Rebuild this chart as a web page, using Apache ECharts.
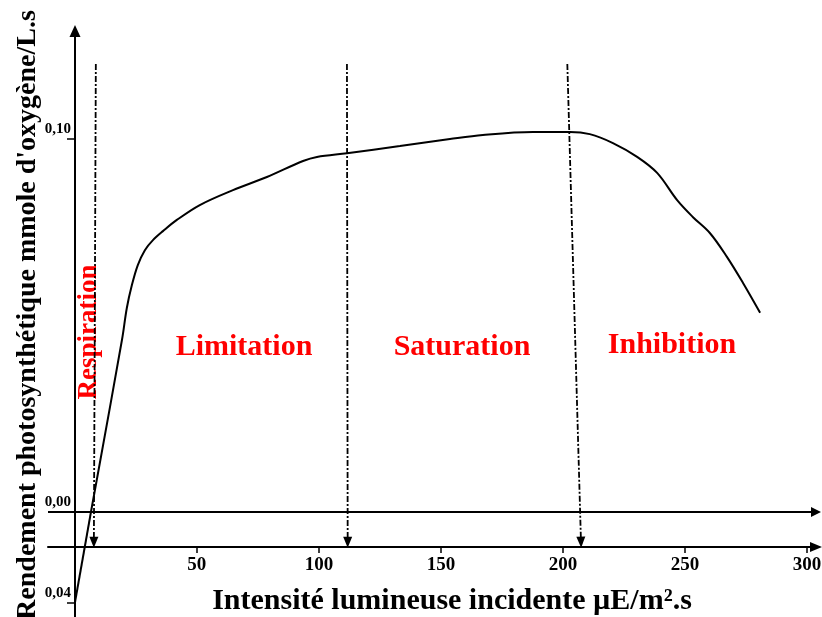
<!DOCTYPE html>
<html>
<head>
<meta charset="utf-8">
<script src="https://cdn.jsdelivr.net/npm/echarts@6.0.0/dist/echarts.min.js"></script>
<style>
  html, body { margin: 0; padding: 0; background: #fff; }
  #chart { width: 822px; height: 617px; }
</style>
</head>
<body>
<div id="chart"></div>
<script>
// Light intensity (µE/m².s) and oxygen yield (mmol/L.s)
const lightRespiration = [0, 6.6];
const yieldRespiration = [-0.04, 0];

const lightMain = [6.6, 19.3, 21.3, 23.4, 25.8, 28.7, 32.0, 36.1, 41.8, 51.2, 64.8, 78.7,
  93.5, 99.2, 111.5, 133.2, 153.7, 167.2, 187.7, 202.9, 211.0, 220.5, 230.4, 238.6, 246.8,
  253.2, 260.2, 267.2, 273.8, 280.8];
const yieldMain = [0, 0.0461, 0.0547, 0.0609, 0.0662, 0.0702, 0.0729, 0.0753, 0.0783, 0.0823,
  0.0863, 0.0898, 0.0941, 0.0952, 0.0962, 0.0981, 0.1000, 0.1011, 0.1019, 0.1019, 0.1013,
  0.0989, 0.0952, 0.0909, 0.0836, 0.0791, 0.0748, 0.0684, 0.0614, 0.0534];

// Phase boundaries: light intensity at the top and at the foot of each arrow
const phaseTop = [8.6, 111.5, 201.8];
const phaseFoot = [7.8, 111.8, 207.4];

const xTicks = [50, 100, 150, 200, 250, 300];
const yTicksUpper = [0, 0.10];
const yTicksLower = [-0.04];

const X_NAME = 'Intensité lumineuse incidente µE/m².s';
const Y_NAME = "Rendement photosynthétique mmole d'oxygène/L.s";
const phaseNames = ['Limitation', 'Saturation', 'Inhibition'];
const respirationName = 'Respiration';

const SERIF = "'Liberation Serif', 'Times New Roman', serif";
const ARROW_TOP_Y = 0.1201;   // where the dash-dot arrows start
const ARROW_FOOT_Y = -0.0081; // just above the x axis line
const Y_AXIS_SHIFT = -27;     // y axes sit on x = 0, right of the grid edge

function fmt(v) {
  return Math.abs(v).toFixed(2).replace('.', ',');
}

const toPairs = (xs, ys) => xs.map((x, i) => [x, ys[i]]);

const phaseLines = phaseTop.map((x, i) => [
  { coord: [x, ARROW_TOP_Y] },
  { coord: [phaseFoot[i], ARROW_FOOT_Y] }
]);

const tickLabel = {
  formatter: fmt, margin: 4, color: '#000', fontFamily: SERIF, fontWeight: 'bold',
  fontSize: 15, verticalAlign: 'bottom', padding: [0, 0, 2, 0]
};

const chart = echarts.init(document.getElementById('chart'), null, { renderer: 'canvas' });

chart.setOption({
  animation: false,
  backgroundColor: '#fff',
  grid: { left: 48, right: 6, top: 31, bottom: 0, outerBoundsMode: 'none', containLabel: false },
  xAxis: {
    type: 'value', min: -11, max: 303.7, position: 'bottom', offset: -70,
    axisLine: { onZero: false, lineStyle: { color: '#000', width: 2 },
      symbol: ['none', 'triangle'], symbolSize: [10, 12] },
    axisTick: { customValues: xTicks, length: 6, lineStyle: { color: '#000', width: 1.5 } },
    axisLabel: { customValues: xTicks, margin: 9, color: '#000', fontFamily: SERIF,
      fontWeight: 'bold', fontSize: 19 },
    splitLine: { show: false },
    name: X_NAME, nameLocation: 'middle', nameGap: 39, nameMoveOverlap: false,
    nameTextStyle: { color: '#000', fontFamily: SERIF, fontWeight: 'bold', fontSize: 30,
      padding: [0, 0, 0, 40] }
  },
  yAxis: [
    {
      type: 'value', min: -0.02815, max: 0.12895, position: 'left', offset: Y_AXIS_SHIFT,
      axisLine: { onZero: false, lineStyle: { color: '#000', width: 2 },
        symbol: ['none', 'triangle'], symbolSize: [11, 12] },
      axisTick: { customValues: [0.10], length: 8, lineStyle: { color: '#000', width: 1.5 } },
      axisLabel: Object.assign({ customValues: yTicksUpper }, tickLabel),
      splitLine: { show: false },
      name: Y_NAME, nameLocation: 'middle', nameGap: 33, nameMoveOverlap: false,
      nameTextStyle: { color: '#000', fontFamily: SERIF, fontWeight: 'bold', fontSize: 28,
        padding: [0, 0, 0, 18] }
    },
    {
      type: 'value', min: -0.04615, max: 0.21143, position: 'left', offset: Y_AXIS_SHIFT,
      axisLine: { show: false, onZero: false },
      axisTick: { customValues: yTicksLower, length: 8, lineStyle: { color: '#000', width: 1.5 } },
      axisLabel: Object.assign({ customValues: yTicksLower }, tickLabel),
      splitLine: { show: false }
    }
  ],
  series: [
    {
      type: 'line', yAxisIndex: 1, data: toPairs(lightRespiration, yieldRespiration),
      showSymbol: false, clip: false, lineStyle: { color: '#000', width: 2 }, silent: true
    },
    {
      type: 'line', yAxisIndex: 0, data: toPairs(lightMain, yieldMain), smooth: 0.35,
      showSymbol: false, clip: false, lineStyle: { color: '#000', width: 2 }, silent: true,
      markLine: {
        silent: true, animation: false,
        symbol: ['none', 'triangle'], symbolSize: [10, 10],
        label: { show: false },
        lineStyle: { color: '#000', width: 2, type: 'solid' },
        data: [{ yAxis: 0 }]
      }
    },
    {
      type: 'line', yAxisIndex: 0, data: [], silent: true,
      markLine: {
        silent: true, animation: false,
        symbol: ['none', 'triangle'], symbolSize: [9, 11],
        label: { show: false },
        lineStyle: { color: '#000', width: 1.8, type: [6, 2, 2, 2] },
        data: phaseLines
      }
    }
  ],
  graphic: [
    { type: 'text', x: 244, y: 347, style: { text: phaseNames[0], fill: '#ff0000',
      font: 'bold 30px ' + SERIF, align: 'center', verticalAlign: 'middle' } },
    { type: 'text', x: 462, y: 347, style: { text: phaseNames[1], fill: '#ff0000',
      font: 'bold 30px ' + SERIF, align: 'center', verticalAlign: 'middle' } },
    { type: 'text', x: 672, y: 345, style: { text: phaseNames[2], fill: '#ff0000',
      font: 'bold 30px ' + SERIF, align: 'center', verticalAlign: 'middle' } },
    { type: 'text', x: 89, y: 332, rotation: Math.PI / 2, style: { text: respirationName,
      fill: '#ff0000', font: 'bold 27px ' + SERIF, align: 'center', verticalAlign: 'middle' } }
  ]
});
</script>
</body>
</html>
